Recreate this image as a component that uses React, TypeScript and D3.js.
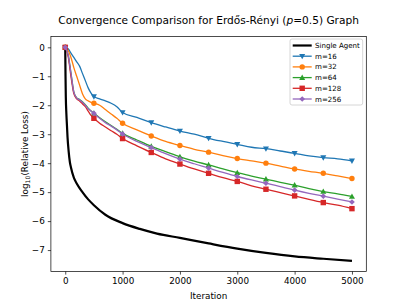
import React, { useEffect, useRef } from 'react'
import * as d3 from 'd3'

const W = 407
const H = 305
const margin = { top: 36.6, right: 40.7, bottom: 33.5, left: 50.9 }

const ITERS = [0, 50, 100, 150, 200, 250, 300, 350, 400, 450, 500, 600, 700, 800, 900, 1000,
  1250, 1500, 1750, 2000, 2250, 2500, 2750, 3000, 3250, 3500, 3750, 4000, 4250, 4500, 4750, 5000]

const m16 = [0, -0.05, -0.2, -0.35, -0.5, -0.65, -0.9, -1.15, -1.4, -1.58, -1.7, -1.78, -1.85, -1.93, -2.05, -2.25,
  -2.42, -2.6, -2.75, -2.89, -3.0, -3.14, -3.25, -3.35, -3.45, -3.5, -3.58, -3.66, -3.75, -3.81, -3.85, -3.92]
const m32 = [0, -0.1, -0.35, -0.7, -1.0, -1.3, -1.6, -1.78, -1.85, -1.9, -1.93, -2.0, -2.15, -2.3, -2.45, -2.62,
  -2.85, -3.06, -3.25, -3.39, -3.52, -3.62, -3.74, -3.84, -3.92, -4.0, -4.1, -4.2, -4.28, -4.35, -4.44, -4.53]
const m64 = [0, -0.25, -0.9, -1.55, -1.75, -1.8, -1.88, -1.98, -2.1, -2.2, -2.28, -2.43, -2.57, -2.7, -2.83, -2.97,
  -3.2, -3.42, -3.6, -3.78, -3.93, -4.06, -4.2, -4.33, -4.45, -4.55, -4.66, -4.76, -4.88, -4.98, -5.06, -5.15]
const m128 = [0, -0.3, -1.0, -1.6, -1.78, -1.85, -1.95, -2.05, -2.2, -2.35, -2.45, -2.62, -2.75, -2.88, -3.0, -3.15,
  -3.4, -3.63, -3.85, -4.03, -4.2, -4.35, -4.5, -4.63, -4.78, -4.9, -5.02, -5.13, -5.25, -5.36, -5.45, -5.57]
const m256 = [0, -0.25, -0.9, -1.55, -1.75, -1.82, -1.9, -2.0, -2.12, -2.2, -2.28, -2.45, -2.6, -2.72, -2.85, -2.99,
  -3.25, -3.46, -3.67, -3.86, -4.02, -4.17, -4.32, -4.46, -4.58, -4.69, -4.81, -4.93, -5.04, -5.14, -5.24, -5.34]

const SINGLE_ITERS = [0, 5, 10, 20, 30, 40, 60, 80, 100, 150, 200, 300, 400, 500, 700, 1000,
  1300, 1600, 2000, 2500, 3000, 3500, 4000, 4500, 5000]
const single = [0, -1.0, -1.7, -2.3, -2.7, -3.1, -3.6, -3.95, -4.15, -4.5, -4.7, -5.0, -5.25, -5.45, -5.78, -6.07,
  -6.27, -6.43, -6.58, -6.77, -6.95, -7.1, -7.22, -7.3, -7.37]

const SERIES = [
  { name: 'm=16', values: m16, color: '#1f77b4', marker: 'tridown' },
  { name: 'm=32', values: m32, color: '#ff7f0e', marker: 'circle' },
  { name: 'm=64', values: m64, color: '#2ca02c', marker: 'triup' },
  { name: 'm=128', values: m128, color: '#d62728', marker: 'square' },
  { name: 'm=256', values: m256, color: '#9467bd', marker: 'diamond' },
]

const X_TICKS = [0, 1000, 2000, 3000, 4000, 5000]
const Y_TICKS = [0, -1, -2, -3, -4, -5, -6, -7]

function drawMarker(g: any, kind: string, x: number, y: number, color: string) {
  const s = 2.7
  if (kind === 'circle') {
    g.append('circle').attr('cx', x).attr('cy', y).attr('r', s).attr('fill', color)
  } else if (kind === 'square') {
    g.append('rect').attr('x', x - s).attr('y', y - s).attr('width', 2 * s).attr('height', 2 * s).attr('fill', color)
  } else if (kind === 'triup') {
    g.append('path').attr('d', `M${x},${y - s - 0.4}L${x + s + 0.3},${y + s - 0.4}L${x - s - 0.3},${y + s - 0.4}Z`).attr('fill', color)
  } else if (kind === 'tridown') {
    g.append('path').attr('d', `M${x},${y + s + 0.4}L${x + s + 0.3},${y - s + 0.4}L${x - s - 0.3},${y - s + 0.4}Z`).attr('fill', color)
  } else {
    const d = s * 1.05
    g.append('path').attr('d', `M${x},${y - d}L${x + d},${y}L${x},${y + d}L${x - d},${y}Z`).attr('fill', color)
  }
}

export default function App() {
  const ref = useRef<SVGSVGElement>(null)

  useEffect(() => {
    const svg = d3.select(ref.current)
    svg.selectAll('*').remove()
    const cw = W - margin.left - margin.right
    const ch = H - margin.top - margin.bottom

    const x = d3.scaleLinear().domain([-250, 5250]).range([0, cw])
    const y = d3.scaleLinear().domain([-7.74, 0.37]).range([ch, 0])

    const root = svg.append('g').attr('transform', `translate(${margin.left},${margin.top})`)
    const font = 'DejaVu Sans, sans-serif'

    // lines
    const line = d3.line<[number, number]>().x(d => x(d[0])).y(d => y(d[1])).curve(d3.curveMonotoneX)
    root.append('path')
      .datum(SINGLE_ITERS.map((t, i) => [t, single[i]] as [number, number]))
      .attr('d', line)
      .attr('fill', 'none').attr('stroke', '#000').attr('stroke-width', 2.2)

    SERIES.forEach(s => {
      const pts = ITERS.map((t, i) => [t, s.values[i]] as [number, number])
      root.append('path').datum(pts).attr('d', line)
        .attr('fill', 'none').attr('stroke', s.color).attr('stroke-width', 1.3)
      const mg = root.append('g')
      pts.filter(p => p[0] % 500 === 0).forEach(p => drawMarker(mg, s.marker, x(p[0]), y(p[1]), s.color))
    })

    // axes
    const xAxis = root.append('g').attr('transform', `translate(0,${ch})`)
      .call(d3.axisBottom(x).tickValues(X_TICKS).tickSize(3.1).tickPadding(3).tickFormat(d3.format('d')))
    const yAxis = root.append('g')
      .call(d3.axisLeft(y).tickValues(Y_TICKS).tickSize(3.1).tickPadding(3).tickFormat(d => (+d === 0 ? '0' : '\u2212' + Math.abs(+d))))
    ;[xAxis, yAxis].forEach(a => {
      a.select('.domain').remove()
      a.selectAll('line').attr('stroke', '#000').attr('stroke-width', 0.7)
      a.selectAll('text').attr('font-family', font).attr('font-size', 8.8).attr('fill', '#000')
    })

    root.append('rect').attr('x', 0).attr('y', 0).attr('width', cw).attr('height', ch)
      .attr('fill', 'none').attr('stroke', '#000').attr('stroke-width', 0.7)

    // title and labels
    const title = svg.append('text').attr('x', margin.left + cw / 2).attr('y', 24).attr('text-anchor', 'middle')
      .attr('font-family', font).attr('font-size', 10.6)
    title.append('tspan').text('Convergence Comparison for Erdős-Rényi (')
    title.append('tspan').attr('font-style', 'italic').text('p')
    title.append('tspan').text('=0.5) Graph')

    svg.append('text').attr('x', margin.left + cw / 2).attr('y', 299).attr('text-anchor', 'middle')
      .attr('font-family', font).attr('font-size', 8.8).text('Iteration')

    const yl = svg.append('text').attr('transform', `translate(28,${margin.top + ch / 2}) rotate(-90)`)
      .attr('text-anchor', 'middle').attr('font-family', font).attr('font-size', 8.8)
    yl.append('tspan').text('log')
    yl.append('tspan').attr('font-size', 6.2).attr('dy', 2).text('10')
    yl.append('tspan').attr('dy', -2).text('(Relative Loss)')

    // legend
    const lg = svg.append('g').attr('transform', 'translate(290,39)')
    lg.append('rect').attr('width', 72.7).attr('height', 66).attr('rx', 2)
      .attr('fill', '#fff').attr('fill-opacity', 0.8).attr('stroke', '#ccc').attr('stroke-width', 0.8)
    const entries = [{ name: 'Single Agent', color: '#000', marker: '' }, ...SERIES]
    entries.forEach((e, i) => {
      const ey = 6.5 + i * 10.7
      lg.append('line').attr('x1', 2.7).attr('x2', 21.7).attr('y1', ey).attr('y2', ey)
        .attr('stroke', e.color).attr('stroke-width', e.marker ? 1.3 : 2.2)
      if (e.marker) drawMarker(lg, e.marker, 12.2, ey, e.color)
      lg.append('text').attr('x', 25).attr('y', ey + 2.5).attr('font-family', font).attr('font-size', 7.07)
        .text(e.name)
    })
  }, [])

  return <svg ref={ref} width={W} height={H} style={{ display: 'block', position: 'absolute', left: 0, top: 0 }} />
}
